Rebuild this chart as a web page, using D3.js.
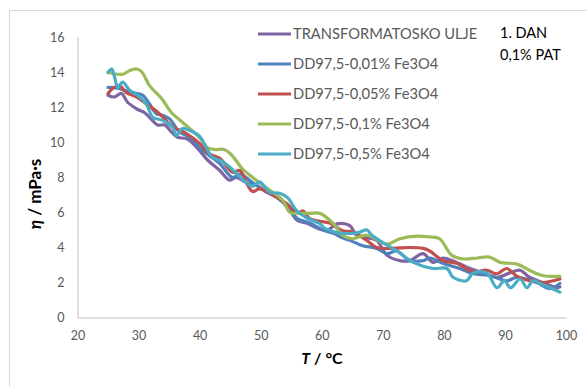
<!DOCTYPE html>
<html>
<head>
<meta charset="utf-8">
<script src="https://cdnjs.cloudflare.com/ajax/libs/d3/7.8.5/d3.min.js"></script>
<style>
  body { margin: 0; background: #fff; }
  svg { display: block; }
  text { font-family: Lato, "Open Sans", sans-serif; }
</style>
</head>
<body>
<div id="chart"></div>
<script>
// viscosity vs temperature
var xTicks = [20, 30, 40, 50, 60, 70, 80, 90, 100];
var yTicks = [0, 2, 4, 6, 8, 10, 12, 14, 16];

var seriesNames = [
    "TRANSFORMATOSKO ULJE",
    "DD97,5-0,01% Fe3O4",
    "DD97,5-0,05% Fe3O4",
    "DD97,5-0,1% Fe3O4",
    "DD97,5-0,5% Fe3O4"
];
var seriesColors = ["#8064A2", "#4F81BD", "#C0504D", "#9BBB59", "#4BACC6"];

var oil = [[25,12.7],[26,12.6],[27.2,12.8],[28.2,12.3],[29.8,11.9],[31,11.7],[32.3,11.25],[33.1,11.0],
    [34.3,11.0],[35.4,10.6],[36.4,10.3],[38,10.2],[39.7,9.65],[41.3,9.0],[43.3,8.4],[44.9,7.85],[46,8.0],
    [47.7,7.7],[49.3,7.55],[51,7.15],[53,6.8],[54.8,6.1],[56,5.55],[57.5,5.4],[59.7,5.05],[61,5.0],
    [62.5,5.35],[64.6,5.25],[65.7,4.7],[67.5,4.55],[69,4.4],[70.7,3.55],[72.8,3.25],[74.4,3.25],
    [76.6,3.65],[78.2,3.15],[79.8,3.4],[82.1,3.15],[84.3,2.8],[86.4,2.55],[88.7,2.3],[90.8,2.55],
    [92.5,2.7],[94,2.3],[96.2,2.0],[98.5,1.7],[99,1.75]];

var fe001 = [[25,13.15],[26.6,13.1],[28,12.95],[29.7,12.8],[30.7,12.7],[31.8,12.2],[32.9,11.65],[34,11.55],
    [35.1,11.35],[36.7,10.6],[38.4,10.3],[40,9.7],[41.6,9.25],[43.3,8.8],[45.4,8.0],[46.6,8.2],[48.7,7.7],
    [50.5,7.3],[52.5,6.9],[54.5,6.3],[56,5.65],[58,5.4],[60.2,5.0],[62,4.8],[63.4,4.55],[65,4.35],
    [66.7,4.1],[69,3.95],[70.7,3.65],[72.3,3.8],[74.4,3.25],[76.6,3.25],[77.7,3.4],[79.8,3.1],
    [82.6,2.8],[84.8,2.5],[87.5,2.4],[90.3,2.1],[92,2.3],[95.2,2.0],[97.4,1.65],[99,1.95]];

var fe005 = [[25,12.8],[25.8,13.1],[26.9,13.25],[28,12.85],[29.7,12.6],[31.3,12.2],[32.9,11.8],[34,11.45],
    [35.6,10.9],[37.9,10.5],[40,9.95],[41.6,9.35],[43.3,9.1],[45.4,8.3],[46.6,8.4],[47.8,7.6],[48.7,7.2],
    [49.8,7.35],[52,7.0],[54.3,6.5],[56,5.95],[56.9,6.1],[58,5.65],[59.7,5.5],[61.3,5.4],[63.4,4.95],
    [65,4.9],[67.4,4.4],[69,4.0],[71.6,3.95],[74.4,4.0],[76.6,3.95],[77.7,3.8],[79.8,3.25],[82.1,3.1],
    [84.8,2.6],[87,2.7],[88.7,2.5],[90.3,2.8],[92,2.35],[94,2.1],[96.2,2.0],[99,2.2]];

var fe01 = [[25,14.0],[27.4,13.9],[28.5,14.1],[29.7,14.2],[30.5,14.05],[31.8,13.25],[33.8,12.5],[35.4,11.7],
    [36.7,11.3],[38.7,10.7],[40.2,10.2],[41.3,9.7],[42.5,9.6],[44,9.6],[45.2,9.3],[47,8.5],[48.7,8.0],
    [51,7.4],[53.6,6.7],[54.8,6.0],[56.5,5.95],[58,5.95],[59.7,5.95],[61.8,5.4],[63.4,4.7],[65,4.5],
    [67.4,4.7],[70.6,4.2],[72.8,4.5],[75.6,4.65],[77.7,4.6],[79.3,4.5],[81.3,3.55],[83.1,3.35],
    [85.5,3.4],[87.5,3.45],[89.2,3.15],[92,3.05],[94,2.7],[96.2,2.4],[99,2.35]];

var fe05 = [[25,14.0],[25.6,14.2],[26.1,13.7],[26.6,13.15],[27.4,13.45],[28.5,13.0],[30.2,12.6],[31.3,12.2],
    [32.3,11.45],[34,11.25],[35.6,10.85],[36.2,10.4],[37.2,10.8],[38.9,10.6],[40,10.35],[41.1,9.7],
    [42.1,9.15],[43.8,8.9],[45.4,8.45],[47,7.9],[48.7,7.5],[49.8,7.75],[51.5,7.15],[53.1,7.1],[54.4,6.85],
    [55.9,6.1],[57.5,5.7],[59.7,5.35],[60.5,5.1],[62.5,4.85],[64.6,4.8],[66,4.85],[67.4,5.0],[68.2,4.7],
    [69.5,4.4],[72.3,3.8],[75,3.15],[78.2,2.8],[80.5,2.8],[81.5,2.3],[83.7,2.1],[84.8,2.55],[87,2.55],
    [88.7,1.7],[89.9,2.1],[90.9,1.7],[92.5,2.2],[93.6,1.7],[94.6,2.1],[96,1.9],[97.4,1.7],[99,1.45]];

var allSeries = [oil, fe001, fe005, fe01, fe05];

var width = 587, height = 387;
var svg = d3.select("#chart").append("svg")
    .attr("width", width)
    .attr("height", height);

// chart area border
svg.append("rect")
    .attr("x", 9.5).attr("y", 10.5)
    .attr("width", 600).attr("height", 400)
    .attr("fill", "none")
    .attr("stroke", "#D9D9D9");

var x = d3.scaleLinear().domain([20, 100]).range([77.5, 566]);
var y = d3.scaleLinear().domain([0, 16]).range([317.5, 37.5]);

// axes, no tick marks
var xAxis = svg.append("g")
    .attr("transform", "translate(0," + y(0) + ")")
    .call(d3.axisBottom(x).tickValues(xTicks).tickSize(0).tickPadding(14));
var yAxis = svg.append("g")
    .attr("transform", "translate(" + x(20) + ",0)")
    .call(d3.axisLeft(y).tickValues(yTicks).tickSize(0).tickPadding(13));

[xAxis, yAxis].forEach(function (g) {
    g.select(".domain").attr("stroke", "#BFBFBF");
    g.selectAll("text")
        .attr("fill", "#595959")
        .style("font-size", "12.5px")
        .style("font-family", "Lato, sans-serif");
});
yAxis.select(".domain").attr("d", "M0.5," + y(0) + "V" + y(16));

var line = d3.line()
    .x(function (d) { return x(d[0]); })
    .y(function (d) { return y(d[1]); })
    .curve(d3.curveCatmullRom.alpha(0.5));

allSeries.forEach(function (s, i) {
    svg.append("path")
        .datum(s)
        .attr("d", line)
        .attr("fill", "none")
        .attr("stroke", seriesColors[i])
        .attr("stroke-width", 3.2)
        .attr("stroke-linejoin", "round")
        .attr("stroke-linecap", "round");
});

// legend
var legend = svg.append("g");
seriesNames.forEach(function (name, i) {
    var ly = 34 + i * 30;
    legend.append("line")
        .attr("x1", 258).attr("x2", 291)
        .attr("y1", ly).attr("y2", ly)
        .attr("stroke", seriesColors[i])
        .attr("stroke-width", 3.2);
    legend.append("text")
        .attr("x", 293).attr("y", ly)
        .attr("dy", "0.35em")
        .attr("fill", "#595959")
        .style("font-size", "14.7px")
        .text(name);
});

svg.append("text")
    .attr("x", 500).attr("y", 33).attr("dy", "0.35em")
    .attr("fill", "#000")
    .style("font-size", "14.5px")
    .text("1. DAN");
svg.append("text")
    .attr("x", 500).attr("y", 55).attr("dy", "0.35em")
    .attr("fill", "#000")
    .style("font-size", "14.5px")
    .text("0,1% PAT");

// axis titles
var xt = svg.append("text")
    .attr("x", 322).attr("y", 358).attr("dy", "0.35em")
    .attr("text-anchor", "middle")
    .style("font-size", "16px")
    .style("font-weight", "bold")
    .attr("fill", "#000");
xt.append("tspan").style("font-style", "italic").text("T");
xt.append("tspan").text(" / °C");

var yt = svg.append("text")
    .attr("transform", "translate(35,194) rotate(-90)")
    .attr("dy", "0.35em")
    .attr("text-anchor", "middle")
    .style("font-size", "17px")
    .style("font-weight", "bold")
    .attr("fill", "#000");
yt.append("tspan").style("font-style", "italic").text("η");
yt.append("tspan").text(" / mPa·s");
</script>
</body>
</html>
